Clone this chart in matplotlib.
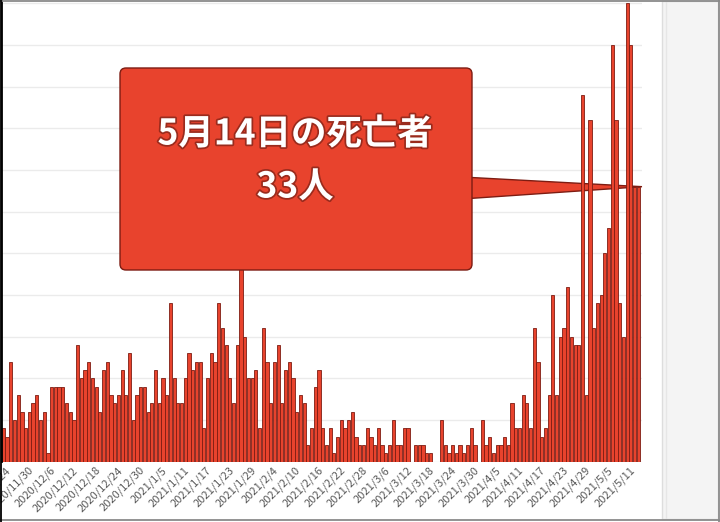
import numpy as np
import matplotlib
matplotlib.use("Agg")
import matplotlib.pyplot as plt
import matplotlib.patches as mpatches
import matplotlib.patheffects as pe
from matplotlib.lines import Line2D
from matplotlib.transforms import ScaledTranslation, blended_transform_factory

plt.rcParams['font.family'] = ['Noto Sans CJK JP', 'DejaVu Sans']

# daily deaths, 2020/11/24 .. 2021/5/14
deaths = [4, 3, 12, 5, 8, 6, 4, 6, 7, 8, 5, 6, 1, 9, 9, 9, 9, 7, 6, 5,
          14, 10, 11, 12, 10, 9, 6, 11, 12, 8, 7, 8, 11, 8, 13, 5, 8, 9, 9, 6,
          7, 11, 7, 10, 8, 19, 10, 7,
          7, 10, 13, 11, 12, 12, 4, 10, 13, 12, 19, 16, 14, 10, 7, 14, 28, 15, 10, 10,
          11, 4, 16, 12, 7, 12, 14, 7, 11, 12, 10, 6, 8, 7, 2, 4, 9, 11, 4, 2,
          4, 1, 3, 5, 4, 5,
          6, 3, 2, 2, 4, 3, 2, 4, 2, 1, 2, 5, 2, 2, 4, 4, 0, 2, 2, 2,
          1, 1, 0, 0, 5, 2, 1, 2, 1, 2, 1, 2, 4, 2, 0, 5, 2, 3, 1, 2,
          2, 3, 2, 7, 4, 4, 8, 7, 4, 16, 12, 3, 4, 8, 20, 8, 15, 16, 21, 15,
          14, 14, 44, 8, 41, 16, 19, 20, 25, 28, 50, 41, 19, 15, 55, 50, 33, 33]

tick_labels = ['2020/11/24', '2020/11/30', '2020/12/6', '2020/12/12', '2020/12/18',
               '2020/12/24', '2020/12/30', '2021/1/5', '2021/1/11', '2021/1/17',
               '2021/1/23', '2021/1/29', '2021/2/4', '2021/2/10', '2021/2/16',
               '2021/2/22', '2021/2/28', '2021/3/6', '2021/3/12', '2021/3/18',
               '2021/3/24', '2021/3/30', '2021/4/5', '2021/4/11', '2021/4/17',
               '2021/4/23', '2021/4/29', '2021/5/5', '2021/5/11']
tick_step = 6

callout_title = '5月14日の死亡者'
callout_value = '33人'

bar_red = '#e8432d'
dark_red = '#7d1c12'

W, H = 720, 522
fig = plt.figure(figsize=(W / 100, H / 100), dpi=100)
fig.patch.set_facecolor('white')

# axes box in pixels (from top-left)
ax_l, ax_r, ax_t, ax_b = 1.5, 642, 0, 461.7
ax = fig.add_axes([ax_l / W, (H - ax_b) / H, (ax_r - ax_l) / W, (ax_b - ax_t) / H])

x = np.arange(len(deaths))
ax.bar(x, deaths, width=0.86, color=bar_red, edgecolor=dark_red, linewidth=0.6, zorder=2)

ax.set_xlim(-0.5, 172.0)
ax.set_ylim(0, 55.4)
ax.set_yticks(np.arange(0, 56, 5))
ax.set_yticklabels([])
ax.yaxis.grid(True, color='#ebebeb', linewidth=1)
ax.set_axisbelow(True)
ax.tick_params(length=0)

for s in ['top', 'right', 'bottom']:
    ax.spines[s].set_visible(False)
ax.spines['left'].set_color('black')
ax.spines['left'].set_linewidth(1.3)

ax.set_xticks(x[::tick_step])
ax.set_xticklabels(tick_labels, rotation=45, ha='right', va='center',
                   rotation_mode='anchor', fontsize=8, color='#5a5a5a')
ax.tick_params(axis='x', pad=5)
for lbl in ax.get_xticklabels():
    lbl.set_transform(lbl.get_transform() + ScaledTranslation(0.06, 0, fig.dpi_scale_trans))


def inch(px, py):
    return (px / 100, (H - py) / 100)


# callout pointer, tip at the last bar (value 33) on the axes' right edge
tip_tr = blended_transform_factory(ax.transAxes, ax.transData)
tip_disp = tip_tr.transform((1.0, deaths[-1]))
tip = (tip_disp[0] / fig.dpi, tip_disp[1] / fig.dpi)
wedge = mpatches.Polygon([inch(462, 177), tip, inch(462, 199)], closed=True,
                         facecolor=bar_red, edgecolor=dark_red, linewidth=1,
                         transform=fig.dpi_scale_trans, zorder=1.5, clip_on=False)
ax.add_patch(wedge)

bx0, by0 = inch(120, 270)
box = mpatches.FancyBboxPatch((bx0, by0), 3.52, 2.02,
                              boxstyle='round,pad=0,rounding_size=0.06',
                              facecolor=bar_red, edgecolor=dark_red, linewidth=1,
                              transform=fig.dpi_scale_trans, zorder=5, clip_on=False)
ax.add_patch(box)

shadow = [pe.withStroke(linewidth=2.5, foreground='#9a2b1d')]
tx, ty = inch(295, 134)
ax.text(tx, ty, callout_title, transform=fig.dpi_scale_trans, ha='center', va='center',
        fontsize=25.5, fontweight='bold', color='white', zorder=6, path_effects=shadow)
tx, ty = inch(295, 187)
ax.text(tx, ty, callout_value, transform=fig.dpi_scale_trans, ha='center', va='center',
        fontsize=25.5, fontweight='bold', color='white', zorder=6, path_effects=shadow)

# light side panel on the right
panel = mpatches.Rectangle(inch(662, 519), 0.56, 5.18, facecolor='#f4f4f4',
                           edgecolor='#dddddd', linewidth=1, transform=fig.dpi_scale_trans)
fig.add_artist(panel)
fig.add_artist(Line2D([6.66, 6.66], [0.03, 5.21], color='#e6e6e6', linewidth=1,
                      transform=fig.dpi_scale_trans))

# outer frame of the screenshot
fr = dict(transform=fig.dpi_scale_trans, color='#8a8a8a', linewidth=1.3)
fig.add_artist(Line2D([0, 7.2], [5.215, 5.215], **fr))
fig.add_artist(Line2D([7.185, 7.185], [0, 5.22], **fr))
fig.add_artist(Line2D([0, 7.2], [0.025, 0.025], **fr))
fig.add_artist(Line2D([0.008, 0.008], [0, 5.22], transform=fig.dpi_scale_trans,
                      color='black', linewidth=1.3))

fig.savefig('out.png', dpi=100)
